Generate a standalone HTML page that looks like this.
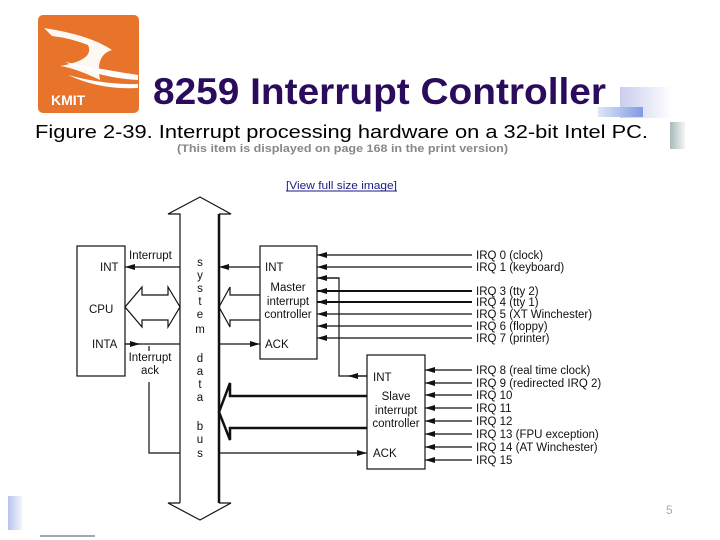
<!DOCTYPE html>
<html><head><meta charset="utf-8"><style>
html,body{margin:0;padding:0;background:#fff;}
body{width:720px;height:540px;overflow:hidden;position:relative;}
svg{position:absolute;left:0;top:0;}
</style></head><body>
<svg width="720" height="540" viewBox="0 0 720 540" xmlns="http://www.w3.org/2000/svg" font-family="Liberation Sans, Arial, sans-serif">
<defs>
<linearGradient id="g1" x1="0" x2="1" y1="0" y2="0"><stop offset="0" stop-color="#c9cdee"/><stop offset="1" stop-color="#ffffff"/></linearGradient>
<linearGradient id="g2" x1="0" x2="1"><stop offset="0" stop-color="#dfe6f8"/><stop offset="1" stop-color="#7f9be0"/></linearGradient>
<linearGradient id="g3" x1="0" x2="1"><stop offset="0" stop-color="#a9b9b9"/><stop offset="1" stop-color="#f4f6f6"/></linearGradient>
<linearGradient id="g4" x1="0" x2="1"><stop offset="0" stop-color="#b8c3ee"/><stop offset="1" stop-color="#f2f4fc"/></linearGradient>
<marker id="ah" markerWidth="10" markerHeight="6" refX="10" refY="3" orient="auto" markerUnits="userSpaceOnUse"><path d="M0,0 L10,3 L0,6 Z" fill="#111"/></marker>
</defs>
<!-- logo -->
<rect x="38" y="15" width="101" height="98" rx="5" fill="#e8732b"/>
<path d="M44,28 Q90,35 112,50 Q95,55 100,80 Q75,68 60,66 Q95,60 88,45 Q70,38 52,36 Z" fill="#fff" opacity="0.95"/>
<path d="M65,62 Q105,70 138,75 L138,80 Q100,78 65,62 Z" fill="#fff"/>
<path d="M68,75 Q105,85 138,84 L138,88 Q100,90 68,75 Z" fill="#fff"/>
<text x="51" y="105" font-size="14" font-weight="bold" fill="#fff">KMIT</text>
<!-- decorations -->
<rect x="620" y="87" width="52" height="31" fill="url(#g1)"/>
<rect x="598" y="107" width="45" height="10" fill="url(#g2)"/>
<rect x="670" y="122" width="15" height="27" fill="url(#g3)"/>
<rect x="8" y="496" width="14" height="34" fill="url(#g4)"/>
<rect x="40" y="535" width="55" height="2" fill="#9aa8b8"/>
<text x="666" y="514" font-size="12" fill="#aaa">5</text>
<!-- titles -->
<text x="153" y="104" font-size="37" font-weight="bold" fill="#2a0b5c" textLength="453" lengthAdjust="spacingAndGlyphs">8259 Interrupt Controller</text>
<text x="35" y="138" font-size="18" fill="#000" textLength="613" lengthAdjust="spacingAndGlyphs">Figure 2-39. Interrupt processing hardware on a 32-bit Intel PC.</text>
<text x="177" y="152" font-size="11" font-weight="bold" fill="#888" textLength="331" lengthAdjust="spacingAndGlyphs">(This item is displayed on page 168 in the print version)</text>
<text x="286" y="189" font-size="11" fill="#1a1a8a" textLength="111" lengthAdjust="spacingAndGlyphs">[View full size image]</text>
<line x1="286" y1="191" x2="397" y2="191" stroke="#1a1a8a" stroke-width="1"/>
<!-- bus -->
<g fill="none" stroke="#111" stroke-width="1.2">
<path d="M180,503 L180,214 L168,214 L200,197 L231,214 L219,214"/>
<path d="M180,503 L168,503 L200,520 L231,503 L219,503"/>
</g>
<line x1="219" y1="214" x2="219" y2="503" stroke="#111" stroke-width="2.5"/>
<!-- boxes -->
<g fill="#fff" stroke="#111" stroke-width="1.2">
<rect x="77" y="246" width="48" height="130"/>
<rect x="260" y="246" width="57" height="113"/>
<rect x="367" y="355" width="58" height="114"/>
</g>
<!-- lines -->
<g stroke="#111" stroke-width="1.2" fill="none">
<line x1="180" y1="267" x2="125" y2="267" marker-end="url(#ah)"/>
<line x1="260" y1="267" x2="219" y2="267" marker-end="url(#ah)"/>
<line x1="125" y1="344" x2="180" y2="344"/>
<line x1="125" y1="344" x2="140" y2="344" marker-end="url(#ah)"/>
<line x1="219" y1="344" x2="260" y2="344" marker-end="url(#ah)"/>
<line x1="149" y1="346" x2="149" y2="351"/>
<path d="M149,382 L149,453 L180,453"/>
<line x1="219" y1="453" x2="367" y2="453" marker-end="url(#ah)"/>
<!-- CPU double arrow -->
<path d="M142,295 L168,295 L168,287 L180,307 L168,327 L168,320 L142,320 L142,327 L125,307 L142,287 Z"/>
<!-- master to bus -->
<path d="M260,295 L230,295 L230,287 L219,307 L230,327 L230,320 L260,320"/>
<!-- slave to bus -->
<path d="M367,396 L230,396 L230,383 L219,412 L230,440 L230,428 L367,428" stroke-width="2.5"/>
<!-- slave INT -->
<path d="M367,376 L339,376 L339,278 L317,278"/>
<line x1="367" y1="376" x2="348" y2="376" marker-end="url(#ah)"/>
<line x1="339" y1="278" x2="317" y2="278" marker-end="url(#ah)"/>
<!-- IRQ master -->
<line x1="472" y1="255" x2="317" y2="255" marker-end="url(#ah)"/>
<line x1="472" y1="267" x2="317" y2="267" marker-end="url(#ah)"/>
<line x1="472" y1="291" x2="317" y2="291" marker-end="url(#ah)" stroke-width="2"/>
<line x1="472" y1="302" x2="317" y2="302" marker-end="url(#ah)" stroke-width="2"/>
<line x1="472" y1="314" x2="317" y2="314" marker-end="url(#ah)"/>
<line x1="472" y1="326" x2="317" y2="326" marker-end="url(#ah)"/>
<line x1="472" y1="338" x2="317" y2="338" marker-end="url(#ah)"/>
<!-- IRQ slave -->
<line x1="472" y1="370" x2="425" y2="370" marker-end="url(#ah)"/>
<line x1="472" y1="383" x2="425" y2="383" marker-end="url(#ah)"/>
<line x1="472" y1="395" x2="425" y2="395" marker-end="url(#ah)"/>
<line x1="472" y1="408" x2="425" y2="408" marker-end="url(#ah)"/>
<line x1="472" y1="421" x2="425" y2="421" marker-end="url(#ah)"/>
<line x1="472" y1="434" x2="425" y2="434" marker-end="url(#ah)"/>
<line x1="472" y1="447" x2="425" y2="447" marker-end="url(#ah)"/>
<line x1="472" y1="460" x2="425" y2="460" marker-end="url(#ah)"/>
</g>
<!-- labels -->
<g font-size="11.5" fill="#111">
<text x="129" y="259">Interrupt</text>
<text x="100" y="271">INT</text>
<text x="89" y="313">CPU</text>
<text x="92" y="348">INTA</text>
<text x="150" y="361" text-anchor="middle">Interrupt</text>
<text x="150" y="374" text-anchor="middle">ack</text>
<text x="265" y="271">INT</text>
<text x="288" y="291" text-anchor="middle">Master</text>
<text x="288" y="305" text-anchor="middle">interrupt</text>
<text x="288" y="318" text-anchor="middle">controller</text>
<text x="265" y="348">ACK</text>
<text x="373" y="381">INT</text>
<text x="396" y="400" text-anchor="middle">Slave</text>
<text x="396" y="414" text-anchor="middle">interrupt</text>
<text x="396" y="427" text-anchor="middle">controller</text>
<text x="373" y="457">ACK</text>
</g>
<g font-size="11.5" fill="#111" text-anchor="middle">
<text x="200" y="266">s</text><text x="200" y="279">y</text><text x="200" y="292">s</text><text x="200" y="305">t</text><text x="200" y="318">e</text><text x="200" y="333">m</text>
<text x="200" y="362">d</text><text x="200" y="375">a</text><text x="200" y="388">t</text><text x="200" y="401">a</text>
<text x="200" y="430">b</text><text x="200" y="443">u</text><text x="200" y="457">s</text>
</g>
<g font-size="11.5" fill="#111">
<text x="476" y="259">IRQ 0 (clock)</text>
<text x="476" y="271">IRQ 1 (keyboard)</text>
<text x="476" y="295">IRQ 3 (tty 2)</text>
<text x="476" y="306">IRQ 4 (tty 1)</text>
<text x="476" y="318">IRQ 5 (XT Winchester)</text>
<text x="476" y="330">IRQ 6 (floppy)</text>
<text x="476" y="342">IRQ 7 (printer)</text>
<text x="476" y="374">IRQ 8 (real time clock)</text>
<text x="476" y="387">IRQ 9 (redirected IRQ 2)</text>
<text x="476" y="399">IRQ 10</text>
<text x="476" y="412">IRQ 11</text>
<text x="476" y="425">IRQ 12</text>
<text x="476" y="438">IRQ 13 (FPU exception)</text>
<text x="476" y="451">IRQ 14 (AT Winchester)</text>
<text x="476" y="464">IRQ 15</text>
</g>
</svg>
</body></html>
